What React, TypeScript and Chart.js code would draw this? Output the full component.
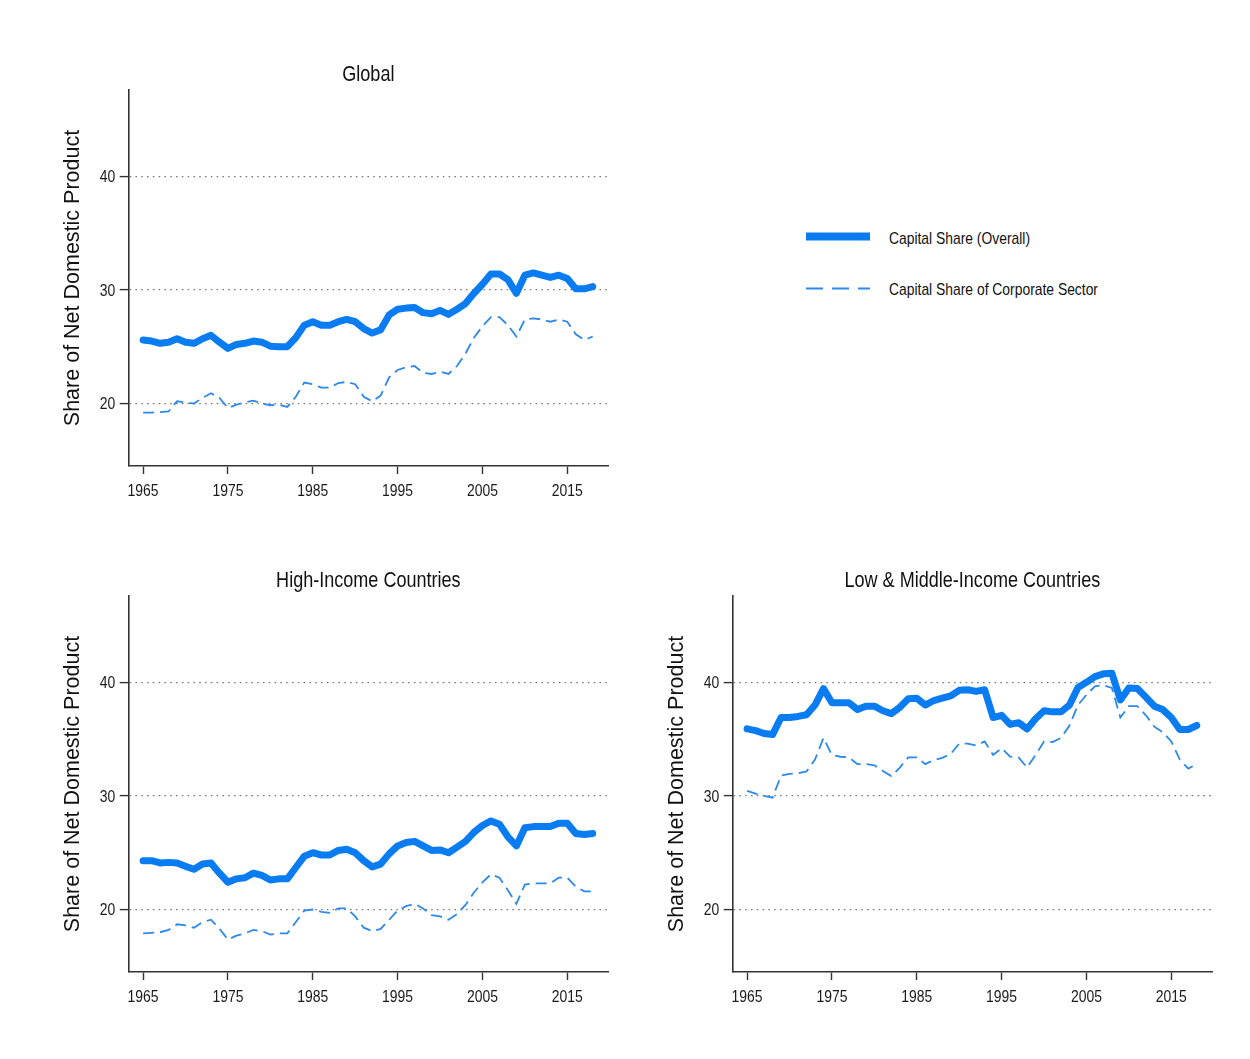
import React, { useEffect, useRef } from "react";
import { Chart, registerables } from "chart.js";

Chart.register(...registerables);

// ---- data -------------------------------------------------------------
const years = [
  1965, 1966, 1967, 1968, 1969, 1970, 1971, 1972, 1973, 1974,
  1975, 1976, 1977, 1978, 1979, 1980, 1981, 1982, 1983, 1984,
  1985, 1986, 1987, 1988, 1989, 1990, 1991, 1992, 1993, 1994,
  1995, 1996, 1997, 1998, 1999, 2000, 2001, 2002, 2003, 2004,
  2005, 2006, 2007, 2008, 2009, 2010, 2011, 2012, 2013, 2014,
  2015, 2016, 2017, 2018,
];

const globalOverall = [
  25.6, 25.5, 25.3, 25.4, 25.7, 25.4, 25.3, 25.7, 26.0, 25.4,
  24.85, 25.2, 25.3, 25.5, 25.4, 25.05, 25.0, 25.0, 25.8, 26.9,
  27.2, 26.9, 26.9, 27.2, 27.4, 27.2, 26.6, 26.2, 26.5, 27.8,
  28.3, 28.4, 28.45, 28.0, 27.9, 28.2, 27.85, 28.3, 28.8, 29.7,
  30.5, 31.4, 31.4, 30.9, 29.7, 31.3, 31.5, 31.3, 31.1, 31.3,
  31.0, 30.1, 30.1, 30.3,
];
const globalCorporate = [
  19.2, 19.2, 19.25, 19.3, 20.2, 20.1, 20.0, 20.5, 20.9, 20.5,
  19.6, 19.9, 20.1, 20.25, 20.0, 19.85, 19.9, 19.7, 20.6, 21.85,
  21.7, 21.4, 21.4, 21.8, 21.9, 21.7, 20.6, 20.2, 20.7, 22.3,
  22.95, 23.2, 23.3, 22.7, 22.6, 22.8, 22.6, 23.3, 24.4, 25.8,
  26.8, 27.6, 27.6, 26.9, 25.9, 27.4, 27.5, 27.4, 27.2, 27.4,
  27.2, 26.1, 25.6, 25.9,
];

const highOverall = [
  24.3, 24.3, 24.1, 24.15, 24.1, 23.8, 23.55, 24.0, 24.1, 23.2,
  22.4, 22.7, 22.8, 23.2, 23.0, 22.6, 22.7, 22.7, 23.7, 24.7,
  25.0, 24.8, 24.8, 25.2, 25.3, 25.0, 24.3, 23.75, 24.0, 24.9,
  25.6, 25.9, 26.0, 25.6, 25.2, 25.25, 25.0, 25.5, 26.0, 26.8,
  27.4, 27.8, 27.5, 26.4, 25.6, 27.2, 27.3, 27.3, 27.3, 27.6,
  27.6, 26.7, 26.6, 26.7,
];
const highCorporate = [
  17.9, 17.95, 18.0, 18.2, 18.7, 18.6, 18.4, 18.9, 19.1, 18.3,
  17.35, 17.7, 17.9, 18.2, 18.1, 17.8, 17.9, 17.9, 18.9, 19.9,
  20.0, 19.8, 19.7, 20.1, 20.1, 19.4, 18.4, 18.1, 18.3, 19.1,
  19.9, 20.3, 20.5, 20.1, 19.5, 19.4, 19.1, 19.6, 20.4, 21.5,
  22.4, 23.1, 22.8, 21.7, 20.5, 22.2, 22.3, 22.3, 22.3, 22.8,
  22.8, 22.0, 21.6, 21.6,
];

const lmiOverall = [
  35.9, 35.75, 35.5, 35.4, 36.9, 36.9, 37.0, 37.15, 38.0, 39.45,
  38.2, 38.2, 38.2, 37.6, 37.9, 37.9, 37.5, 37.25, 37.8, 38.55,
  38.6, 38.0, 38.4, 38.6, 38.8, 39.3, 39.35, 39.2, 39.35, 36.9,
  37.1, 36.3, 36.45, 35.9, 36.8, 37.5, 37.4, 37.4, 38.0, 39.55,
  40.0, 40.5, 40.75, 40.8, 38.45, 39.5, 39.45, 38.7, 37.9, 37.6,
  36.9, 35.85, 35.85, 36.2,
];
const lmiCorporate = [
  30.45, 30.2, 30.0, 29.85, 31.8, 31.95, 32.0, 32.15, 33.2, 35.1,
  33.6, 33.45, 33.4, 32.8, 32.8, 32.7, 32.2, 31.75, 32.5, 33.4,
  33.4, 32.8, 33.15, 33.35, 33.7, 34.6, 34.6, 34.45, 34.8, 33.6,
  34.2, 33.45, 33.4, 32.5, 33.6, 34.8, 34.75, 35.1, 36.2, 38.0,
  38.9, 39.65, 39.75, 39.5, 36.9, 37.9, 37.9, 37.1, 36.1, 35.6,
  34.8, 33.2, 32.4, 32.8,
];

const xTickYears = [1965, 1975, 1985, 1995, 2005, 2015];
const yTickValues = [20, 30, 40];

const seriesNames = ["Capital Share (Overall)", "Capital Share of Corporate Sector"];
const yAxisTitle = "Share of Net Domestic Product";

// ---- styling ----------------------------------------------------------
const BLUE = "#0a7cf2";
const BLUE_DASH = "#2c89ea";
const AXIS = "#333333";
const REGULAR = "'Liberation Sans', Arial, Helvetica, sans-serif";
// horizontal squeeze giving a condensed Helvetica look
const SQUEEZE = 0.82;

const CANVAS_W = 590;
const CANVAS_H = 470;

function drawNarrow(
  ctx: CanvasRenderingContext2D,
  text: string,
  x: number,
  y: number,
  size: number,
  align: CanvasTextAlign,
  baseline: CanvasTextBaseline,
  color: string
) {
  ctx.save();
  ctx.font = `${size}px ${REGULAR}`;
  ctx.fillStyle = color;
  ctx.textAlign = align;
  ctx.textBaseline = baseline;
  ctx.translate(x, y);
  ctx.scale(SQUEEZE, 1);
  ctx.fillText(text, 0, 0);
  ctx.restore();
}

// Panel heading and condensed tick labels
const narrowText = {
  id: "narrowText",
  afterDraw(chart: any, _args: any, opts: any) {
    const { ctx, chartArea, scales } = chart;
    drawNarrow(ctx, opts.title, (chartArea.left + chartArea.right) / 2, chartArea.top - 9.5, 22, "center", "alphabetic", "#111");
    for (const v of xTickYears) {
      drawNarrow(ctx, String(v), scales.x.getPixelForValue(v), chartArea.bottom + 25.5, 17, "center", "middle", "#1a1a1a");
    }
    for (const v of yTickValues) {
      drawNarrow(ctx, String(v), chartArea.left - 13.5, scales.y.getPixelForValue(v) + 1, 17, "right", "middle", "#1a1a1a");
    }
  },
};

type PanelProps = {
  title: string;
  overall: number[];
  corporate: number[];
  left: number;
  top: number;
};

function Panel({ title, overall, corporate, left, top }: PanelProps) {
  const ref = useRef<HTMLCanvasElement>(null);

  useEffect(() => {
    if (!ref.current) return;
    const chart = new Chart(ref.current, {
      type: "line",
      data: {
        datasets: [
          {
            label: seriesNames[0],
            data: years.map((yr, i) => ({ x: yr, y: overall[i] })),
            borderColor: BLUE,
            borderWidth: 7,
            pointRadius: 0,
            borderJoinStyle: "round",
            borderCapStyle: "round",
            tension: 0,
          },
          {
            label: seriesNames[1],
            data: years.map((yr, i) => ({ x: yr, y: corporate[i] })),
            borderColor: BLUE_DASH,
            borderWidth: 1.8,
            borderDash: [11, 6],
            pointRadius: 0,
            tension: 0,
          },
        ],
      },
      options: {
        responsive: false,
        animation: false,
        devicePixelRatio: 1,
        layout: { padding: { left: 0, right: 22, top: 40, bottom: 0 } },
        plugins: {
          legend: { display: false },
          tooltip: { enabled: false },
          narrowText: { title },
        } as any,
        scales: {
          x: {
            type: "linear",
            min: 1963.3,
            max: 2019.8,
            afterBuildTicks: (s: any) => {
              s.ticks = xTickYears.map((v) => ({ value: v }));
            },
            afterFit: (s: any) => {
              s.height = 54;
            },
            ticks: { display: false },
            grid: {
              drawOnChartArea: false,
              drawTicks: true,
              tickLength: 8,
              tickColor: AXIS,
              tickWidth: 1.4,
              tickBorderDash: [],
            },
            border: { display: true, color: AXIS, width: 1.6 },
          },
          y: {
            type: "linear",
            min: 14.5,
            max: 47.6,
            afterBuildTicks: (s: any) => {
              s.ticks = yTickValues.map((v) => ({ value: v }));
            },
            afterFit: (s: any) => {
              s.width = 88.7;
            },
            ticks: { display: false },
            grid: {
              color: "#7a7a7a",
              lineWidth: 1.2,
              drawTicks: true,
              tickLength: 9,
              tickColor: AXIS,
              tickWidth: 1.4,
              tickBorderDash: [],
            },
            border: { display: true, color: AXIS, width: 1.6, dash: [1.6, 4.2] },
            title: {
              display: true,
              text: yAxisTitle,
              font: { family: REGULAR, size: 21.5 },
              color: "#111",
              padding: { top: 20, bottom: 0 },
            },
          },
        },
      } as any,
      plugins: [narrowText as any],
    });
    return () => chart.destroy();
  }, [title, overall, corporate]);

  return (
    <canvas
      ref={ref}
      width={CANVAS_W}
      height={CANVAS_H}
      style={{ position: "absolute", left, top, width: CANVAS_W, height: CANVAS_H, display: "block" }}
    />
  );
}

function Legend() {
  return (
    <svg
      width={400}
      height={100}
      style={{ position: "absolute", left: 800, top: 220, overflow: "visible" }}
    >
      <line x1={6} y1={16.5} x2={70} y2={16.5} stroke={BLUE} strokeWidth={8} />
      <text x={89} y={24} fontFamily={REGULAR} fontSize={17} fill="#111" textLength={141} lengthAdjust="spacingAndGlyphs">
        {seriesNames[0]}
      </text>
      <line x1={6} y1={68.5} x2={70} y2={68.5} stroke={BLUE_DASH} strokeWidth={2} strokeDasharray="17 9" />
      <text x={89} y={75} fontFamily={REGULAR} fontSize={17} fill="#111" textLength={209} lengthAdjust="spacingAndGlyphs">
        {seriesNames[1]}
      </text>
    </svg>
  );
}

export default function App() {
  return (
    <div
      style={{
        position: "absolute",
        left: 0,
        top: 0,
        width: 1250,
        height: 1059,
        background: "#ffffff",
        overflow: "hidden",
      }}
    >
      <Panel title="Global" overall={globalOverall} corporate={globalCorporate} left={40} top={50} />
      <Panel title="High-Income Countries" overall={highOverall} corporate={highCorporate} left={40} top={556} />
      <Panel title="Low & Middle-Income Countries" overall={lmiOverall} corporate={lmiCorporate} left={643.6} top={556} />
      <Legend />
    </div>
  );
}
